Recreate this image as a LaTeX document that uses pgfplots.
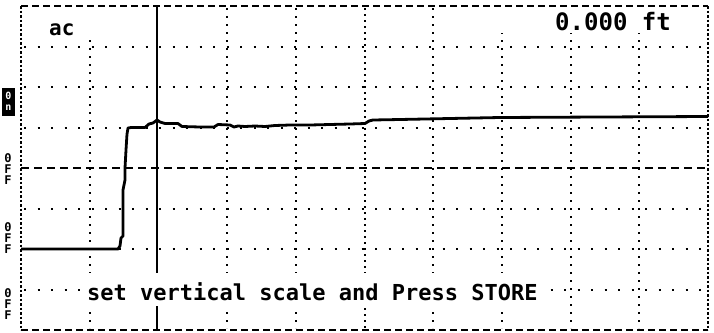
\documentclass[border=0pt]{standalone}
\usepackage{fontspec}
\setmonofont{DejaVu Sans Mono}
\usepackage{pgfplots}
\pgfplotsset{compat=1.18}
\begin{document}
\begin{tikzpicture}
\path[use as bounding box] (-21pt,-2pt) rectangle (693pt,330pt);
\begin{axis}[
  at={(0,0)}, anchor=south west,
  scale only axis, width=687pt, height=324pt,
  xmin=21, xmax=708, ymin=6, ymax=330, y dir=reverse,
  hide axis, clip=false,
]
% grid
\tikzset{hg/.style={line width=2pt, line cap=butt, dash pattern=on 2.2pt off 11.3pt},
         vg/.style={line width=2pt, line cap=butt, dash pattern=on 2.2pt off 5.8pt}}
\draw[hg] (axis cs:24,46.5) -- (axis cs:706,46.5);
\draw[hg] (axis cs:24,87) -- (axis cs:706,87);
\draw[hg] (axis cs:24,127.5) -- (axis cs:706,127.5);
\draw[hg] (axis cs:24,208.5) -- (axis cs:706,208.5);
\draw[hg] (axis cs:24,249) -- (axis cs:706,249);
\draw[hg] (axis cs:24,289.5) -- (axis cs:706,289.5);
\draw[vg] (axis cs:89.7,8) -- (axis cs:89.7,328);
\draw[vg] (axis cs:227.1,8) -- (axis cs:227.1,328);
\draw[vg] (axis cs:295.8,8) -- (axis cs:295.8,328);
\draw[vg] (axis cs:433.2,8) -- (axis cs:433.2,328);
\draw[vg] (axis cs:501.9,8) -- (axis cs:501.9,328);
\draw[vg] (axis cs:570.6,8) -- (axis cs:570.6,328);
\draw[vg] (axis cs:639.3,8) -- (axis cs:639.3,328);
\draw[line width=2pt, line cap=butt, dash pattern=on 2.2pt off 3.8pt] (axis cs:364.5,8) -- (axis cs:364.5,328);
\draw[line width=2.2pt, line cap=butt, dash pattern=on 8pt off 5pt] (axis cs:21,168) -- (axis cs:708,168);
% frame
\draw[line width=2.4pt, line cap=butt, dash pattern=on 7pt off 4pt] (axis cs:21,6) -- (axis cs:708,6);
\draw[line width=2.4pt, line cap=butt, dash pattern=on 7pt off 4pt] (axis cs:21,330) -- (axis cs:708,330);
\draw[line width=2.4pt, line cap=butt, dash pattern=on 2.5pt off 2pt] (axis cs:21,6) -- (axis cs:21,330);
\draw[line width=2.4pt, line cap=butt, dash pattern=on 2.5pt off 2pt] (axis cs:708,6) -- (axis cs:708,330);
% cursor
\addplot[black, line width=2.2pt] coordinates {(157,6) (157,330)};
% trace
\addplot[black, line width=2.8pt, line join=round] coordinates {
(21,249) (118,249) (120,246) (121,238) (123,236) (123,190) (124,185) (125,180)
(125,168) (126,150) (127,134) (128,128) (131,127.5) (145,127.5) (149,124)
(153,123) (157,120) (160,122) (165,123.5) (178,123.5) (182,126.5) (200,127)
(214,127) (218,124.5) (230,125) (234,127) (238,126) (245,126.5) (255,126)
(265,126.5) (275,125.5) (290,125) (310,125) (330,124.5) (350,124) (365,123.5)
(369,121) (373,120) (400,119.5) (450,118.5) (500,117.5) (600,117) (708,116.5)};
% masks
\fill[white] (axis cs:24,8) rectangle (axis cs:96,38);
\fill[white] (axis cs:494,8) rectangle (axis cs:705,33);
\fill[white] (axis cs:80,273) rectangle (axis cs:545,306);
% texts
\node[anchor=base west, inner sep=0pt, font=\ttfamily\bfseries\fontsize{21pt}{21pt}\selectfont] at (axis cs:49,35) {ac};
\node[anchor=base west, inner sep=0pt, font=\ttfamily\bfseries\fontsize{24pt}{24pt}\selectfont] at (axis cs:555,30) {0.000 ft};
\node[anchor=base west, inner sep=0pt, font=\ttfamily\bfseries\fontsize{22pt}{22pt}\selectfont] at (axis cs:87,300) {set vertical scale and Press STORE};
% left labels
\fill[black] (axis cs:2,88) rectangle (axis cs:15,116);
\node[inner sep=0pt, text=white, font=\ttfamily\bfseries\fontsize{10pt}{10pt}\selectfont] at (axis cs:8.5,96) {0};
\node[inner sep=0pt, text=white, font=\ttfamily\bfseries\fontsize{10pt}{10pt}\selectfont] at (axis cs:8.5,108) {n};
\node[inner sep=0pt, font=\ttfamily\bfseries\fontsize{12pt}{12pt}\selectfont] at (axis cs:8,158) {0};
\node[inner sep=0pt, font=\ttfamily\bfseries\fontsize{12pt}{12pt}\selectfont] at (axis cs:8,169) {F};
\node[inner sep=0pt, font=\ttfamily\bfseries\fontsize{12pt}{12pt}\selectfont] at (axis cs:8,180) {F};
\node[inner sep=0pt, font=\ttfamily\bfseries\fontsize{12pt}{12pt}\selectfont] at (axis cs:8,227) {0};
\node[inner sep=0pt, font=\ttfamily\bfseries\fontsize{12pt}{12pt}\selectfont] at (axis cs:8,238) {F};
\node[inner sep=0pt, font=\ttfamily\bfseries\fontsize{12pt}{12pt}\selectfont] at (axis cs:8,249) {F};
\node[inner sep=0pt, font=\ttfamily\bfseries\fontsize{12pt}{12pt}\selectfont] at (axis cs:8,293) {0};
\node[inner sep=0pt, font=\ttfamily\bfseries\fontsize{12pt}{12pt}\selectfont] at (axis cs:8,304) {F};
\node[inner sep=0pt, font=\ttfamily\bfseries\fontsize{12pt}{12pt}\selectfont] at (axis cs:8,315) {F};
\end{axis}
\end{tikzpicture}
\end{document}
